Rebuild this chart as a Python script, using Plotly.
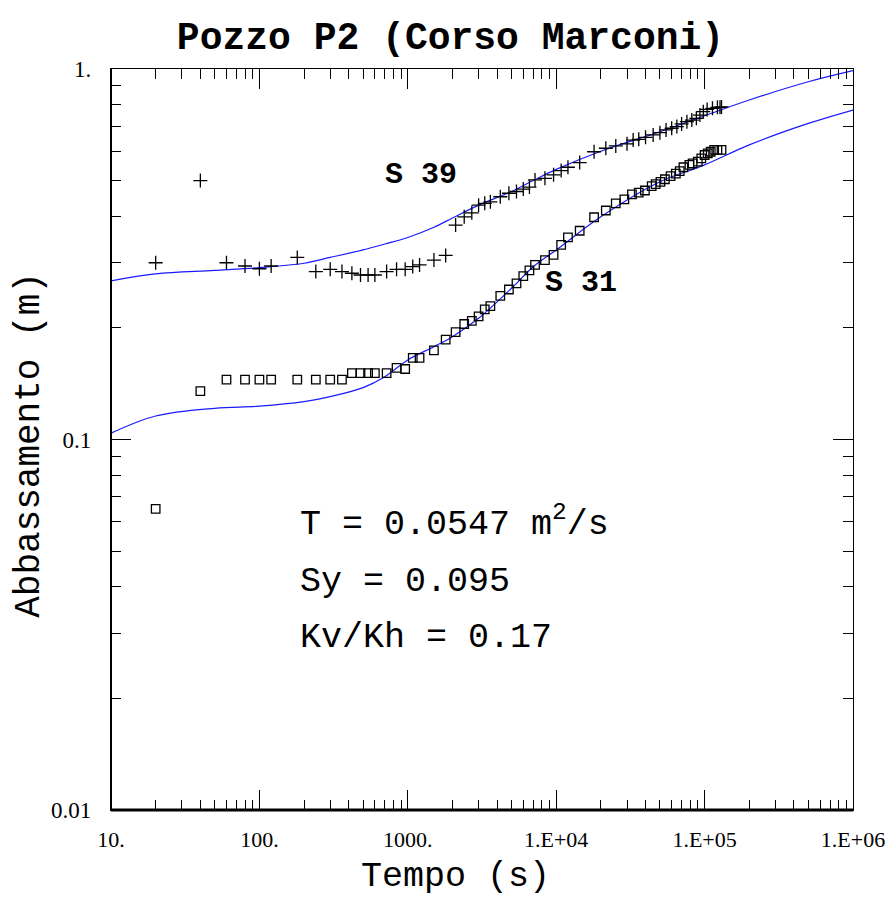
import plotly.graph_objects as go

# ---- data ----
s39_t = [20, 40, 60, 80, 100, 120, 180, 240, 300, 360, 420, 480, 540, 600, 720, 840, 960,
         1080, 1200, 1500, 1800, 2100, 2400, 2700, 3000, 3300, 3600, 4200, 4800, 5400, 6000,
         6600, 7200, 8400, 9600, 10800, 12000, 14400, 18000, 21600, 25200, 30000, 33000,
         36000, 40000, 45000, 50000, 55000, 60000, 65000, 70000, 76000, 82000, 88000, 93000,
         98000, 104000, 113000, 122000, 127000, 130000]
s39_s = [0.30, 0.50, 0.30, 0.294, 0.289, 0.294, 0.31, 0.284, 0.288, 0.284, 0.281, 0.278,
         0.278, 0.278, 0.284, 0.288, 0.288, 0.293, 0.296, 0.305, 0.314, 0.379, 0.399, 0.409,
         0.429, 0.434, 0.438, 0.452, 0.462, 0.467, 0.474, 0.48, 0.502, 0.507, 0.518, 0.532,
         0.543, 0.559, 0.598, 0.611, 0.620, 0.628, 0.643, 0.646, 0.654, 0.664, 0.673, 0.685,
         0.692, 0.699, 0.711, 0.721, 0.728, 0.736, 0.751, 0.767, 0.778, 0.783, 0.788, 0.788,
         0.79]

s31_t = [20, 40, 60, 80, 100, 120, 180, 240, 300, 360, 420, 480, 540, 600, 720, 840, 960,
         1080, 1200, 1500, 1800, 2100, 2400, 2700, 3000, 3300, 3600, 4200, 4800, 5400, 6000,
         6600, 7200, 8400, 9600, 10800, 12000, 14400, 18000, 21600, 25200, 28800, 32400,
         36000, 39600, 44000, 46800, 50400, 54000, 59000, 64000, 68000, 72000, 79000, 83000,
         90000, 95000, 100000, 105000, 110000, 116000, 122000, 130000]
s31_s = [0.065, 0.135, 0.145, 0.145, 0.145, 0.145, 0.145, 0.145, 0.145, 0.145, 0.151, 0.151,
         0.151, 0.151, 0.151, 0.156, 0.155, 0.166, 0.166, 0.174, 0.186, 0.195, 0.205, 0.209,
         0.215, 0.2245, 0.229, 0.244, 0.254, 0.264, 0.276, 0.286, 0.296, 0.305, 0.315, 0.335,
         0.351, 0.366, 0.398, 0.415, 0.434, 0.445, 0.459, 0.464, 0.47, 0.483, 0.489, 0.496,
         0.504, 0.514, 0.522, 0.530, 0.543, 0.551, 0.556, 0.562, 0.574, 0.586, 0.592, 0.598,
         0.605, 0.605, 0.605]

model_t = [10, 20, 50, 100, 200, 300, 500, 700, 1000, 1500, 2000, 3000, 5000, 7000,
           10000, 20000, 50000, 100000, 200000, 500000, 1000000]
model39_s = [0.268, 0.280, 0.286, 0.291, 0.299, 0.310, 0.325, 0.337, 0.351, 0.374, 0.396,
             0.429, 0.467, 0.500, 0.536, 0.600, 0.677, 0.748, 0.825, 0.924, 0.99]
model31_s = [0.104, 0.1157, 0.1214, 0.123, 0.1265, 0.1305, 0.138, 0.1477, 0.164, 0.178,
             0.1895, 0.2124, 0.256, 0.2926, 0.3246, 0.399, 0.496, 0.551, 0.624, 0.713, 0.775]

x_tickvals = [10, 100, 1000, 10000, 100000, 1000000]
x_ticktext = ["10.", "100.", "1000.", "1.E+04", "1.E+05", "1.E+06"]
y_tickvals = [0.01, 0.1, 1]
y_ticktext = ["0.01", "0.1", "1."]

params = ["T = 0.0547 m<sup>2</sup>/s", "Sy = 0.095", "Kv/Kh = 0.17"]

MONO = "Liberation Mono, Courier New, monospace"
SERIF = "Liberation Serif, Times New Roman, serif"

fig = go.Figure()
fig.add_trace(go.Scatter(x=model_t, y=model39_s, mode="lines",
                         line=dict(color="#1a1aff", width=1.2, shape="spline"),
                         showlegend=False))
fig.add_trace(go.Scatter(x=model_t, y=model31_s, mode="lines",
                         line=dict(color="#1a1aff", width=1.2, shape="spline"),
                         showlegend=False))
fig.add_trace(go.Scatter(x=s39_t, y=s39_s, mode="markers",
                         marker=dict(symbol="cross-thin-open", size=10, color="black",
                                     line=dict(color="black", width=1.3)),
                         showlegend=False))
fig.add_trace(go.Scatter(x=s31_t, y=s31_s, mode="markers",
                         marker=dict(symbol="square-open", size=8.5, color="black",
                                     line=dict(color="black", width=1.3)),
                         showlegend=False))

minor_x = [m * 10 ** e for e in range(1, 6) for m in range(2, 10)]
minor_y = [m * 10 ** e for e in (-2, -1) for m in range(2, 10)]

fig.update_xaxes(type="log", range=[1, 6], tickvals=x_tickvals, ticktext=x_ticktext,
                 ticks="inside", ticklen=20, tickwidth=1, tickcolor="black",
                 minor=dict(tickvals=minor_x, ticks="inside", ticklen=10, tickcolor="black",
                            showgrid=False),
                 showgrid=False, zeroline=False, showline=True, linecolor="black",
                 linewidth=1.2, mirror="allticks", automargin=False,
                 tickfont=dict(family=SERIF, size=22, color="black"),
                 ticklabelstandoff=9)
fig.update_yaxes(type="log", range=[-2, 0], tickvals=y_tickvals, ticktext=y_ticktext,
                 ticks="inside", ticklen=20, tickwidth=1, tickcolor="black",
                 minor=dict(tickvals=minor_y, ticks="inside", ticklen=10, tickcolor="black",
                            showgrid=False),
                 showgrid=False, zeroline=False, showline=True, linecolor="black",
                 linewidth=1.2, mirror="allticks", automargin=False,
                 tickfont=dict(family=SERIF, size=23, color="black"),
                 ticklabelstandoff=14)

# thicker bottom & left frame lines
fig.add_shape(type="line", xref="paper", yref="paper", x0=0, x1=1, y0=0, y1=0,
              line=dict(color="black", width=3))
fig.add_shape(type="line", xref="paper", yref="paper", x0=0, x1=0, y0=0, y1=1,
              line=dict(color="black", width=2))

# axis titles
fig.add_annotation(x=0.464, y=-0.090, xref="paper", yref="paper", text="Tempo (s)",
                   showarrow=False, xanchor="center", yanchor="middle",
                   font=dict(family=MONO, size=35, color="black"))
fig.add_annotation(x=-0.109, y=0.493, xref="paper", yref="paper", text="Abbassamento (m)",
                   showarrow=False, xanchor="center", yanchor="middle", textangle=-90,
                   font=dict(family=MONO, size=36, color="black"))

# series labels
fig.add_annotation(x=0.366, y=0.857, xref="paper", yref="paper", text="<b>S 39</b>",
                   showarrow=False, xanchor="left", yanchor="middle",
                   font=dict(family=MONO, size=30, color="black"))
fig.add_annotation(x=0.582, y=0.711, xref="paper", yref="paper", text="<b>S 31</b>",
                   showarrow=False, xanchor="left", yanchor="middle",
                   font=dict(family=MONO, size=30, color="black"))

for i, txt in enumerate(params):
    fig.add_annotation(x=0.252, y=[0.389, 0.308, 0.232][i], xref="paper", yref="paper",
                       text=txt, showarrow=False, xanchor="left", yanchor="middle",
                       font=dict(family=MONO, size=35, color="black"))

# the page adds an 8px body margin, so the figure is shrunk by that much
fig.update_layout(
    width=885, height=890,
    margin=dict(l=103, r=40, t=61, b=88),
    paper_bgcolor="white", plot_bgcolor="white",
    title=dict(text="<b>Pozzo P2 (Corso Marconi)</b>", x=0.5, xanchor="center",
               y=0.969, yanchor="middle",
               font=dict(family=MONO, size=38, color="black")),
)

fig.write_html("out.html")
